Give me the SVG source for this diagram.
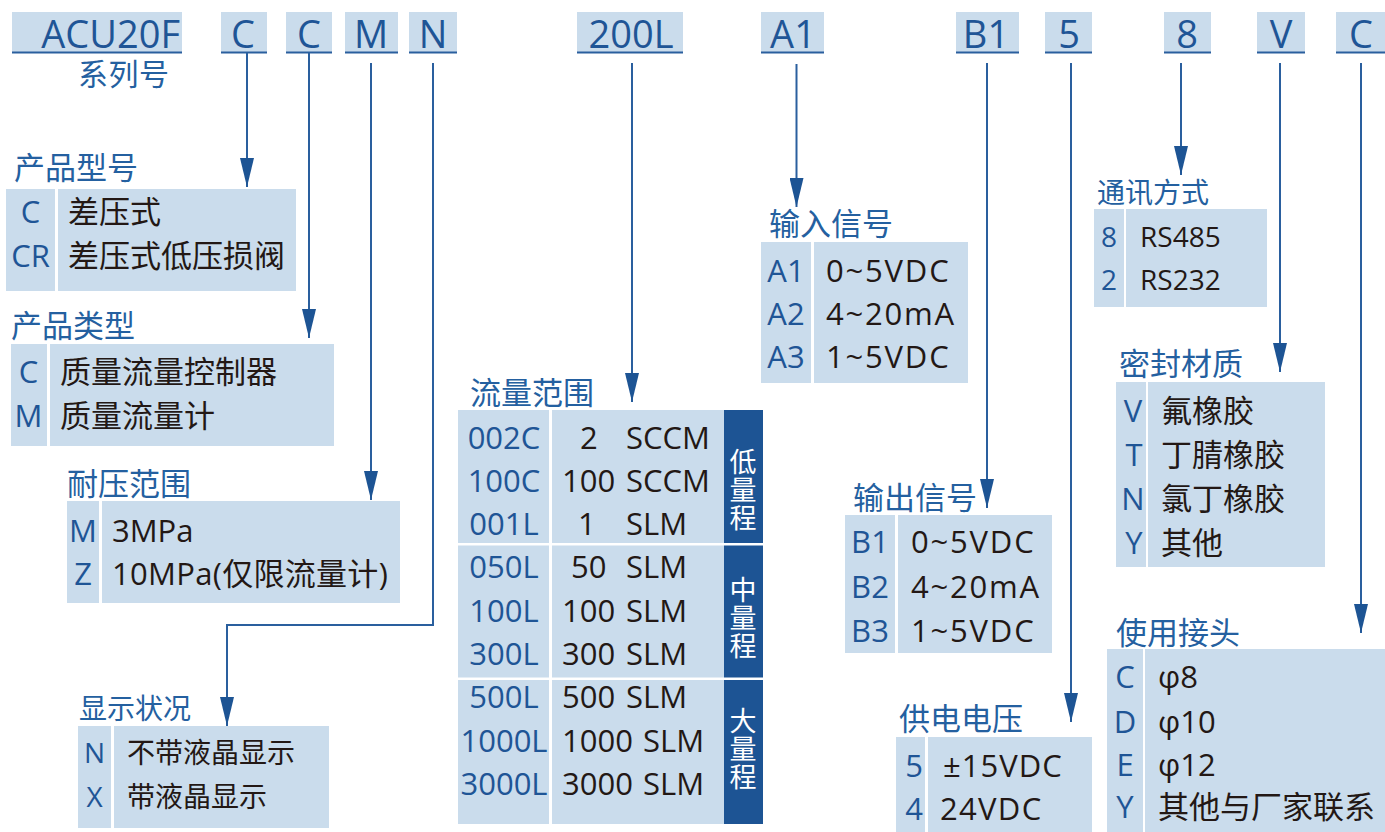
<svg xmlns="http://www.w3.org/2000/svg" width="1385" height="832" viewBox="0 0 1385 832">
<style>
.cell{fill:#cadcec}
.dk{fill:#1d5494}
.ul{stroke:#2a5f9e;stroke-width:2}
.hdr{font-family:"Open Sans","Noto Sans CJK SC",sans-serif;font-size:38px;fill:#1f5596;text-anchor:middle}
.ttl{font-family:"Noto Sans CJK SC",sans-serif;font-size:31px;fill:#2460a0}
.code{font-family:"Open Sans","Noto Sans CJK SC",sans-serif;font-size:31px;fill:#1f5596;text-anchor:middle}
.desc{font-family:"Open Sans","Noto Sans CJK SC",sans-serif;font-size:31px;fill:#231815}
.sig{letter-spacing:1.8px}
.sm{font-size:28px}
.vt{font-family:"Noto Sans CJK SC",sans-serif;font-size:27px;fill:#ffffff;writing-mode:vertical-rl;letter-spacing:1px}
.conn{stroke:#2a5f9e;stroke-width:2;fill:none}
</style>
<defs>
<marker id="ah" viewBox="0 0 29 14" refX="29" refY="7" markerWidth="29" markerHeight="14" markerUnits="userSpaceOnUse" orient="auto">
<path d="M0,0 L29,7 L0,14 z" fill="#1d5494"/>
</marker>
</defs>
<rect width="1385" height="832" fill="#ffffff"/>

<!-- header row -->
<g id="h-acu"><rect class="cell" x="12" y="12" width="170" height="40"/><line class="ul" x1="12" y1="52.5" x2="182" y2="52.5"/><text class="hdr" x="180" y="48" style="text-anchor:end">ACU20F</text><text class="ttl" x="78" y="85" style="font-size:30px;letter-spacing:0.5px">系列号</text></g>
<g id="h-c1"><rect class="cell" x="221" y="12" width="46" height="40"/><line class="ul" x1="221" y1="52.5" x2="267" y2="52.5"/><text class="hdr" x="243" y="48">C</text></g>
<g id="h-c2"><rect class="cell" x="286" y="12" width="46" height="40"/><line class="ul" x1="286" y1="52.5" x2="332" y2="52.5"/><text class="hdr" x="309" y="48">C</text></g>
<g id="h-m"><rect class="cell" x="345" y="12" width="53" height="40"/><line class="ul" x1="345" y1="52.5" x2="398" y2="52.5"/><text class="hdr" x="371" y="48">M</text></g>
<g id="h-n"><rect class="cell" x="409" y="12" width="48" height="40"/><line class="ul" x1="409" y1="52.5" x2="457" y2="52.5"/><text class="hdr" x="433" y="48">N</text></g>
<g id="h-200l"><rect class="cell" x="577" y="12" width="106" height="40"/><line class="ul" x1="577" y1="52.5" x2="683" y2="52.5"/><text class="hdr" x="631" y="48">200L</text></g>
<g id="h-a1"><rect class="cell" x="761" y="12" width="63" height="40"/><line class="ul" x1="761" y1="52.5" x2="824" y2="52.5"/><text class="hdr" x="793" y="48">A1</text></g>
<g id="h-b1"><rect class="cell" x="956" y="12" width="63" height="40"/><line class="ul" x1="956" y1="52.5" x2="1019" y2="52.5"/><text class="hdr" x="986" y="48">B1</text></g>
<g id="h-5"><rect class="cell" x="1045" y="12" width="47" height="40"/><line class="ul" x1="1045" y1="52.5" x2="1092" y2="52.5"/><text class="hdr" x="1069" y="48">5</text></g>
<g id="h-8"><rect class="cell" x="1164" y="12" width="47" height="40"/><line class="ul" x1="1164" y1="52.5" x2="1211" y2="52.5"/><text class="hdr" x="1187" y="48">8</text></g>
<g id="h-v"><rect class="cell" x="1257" y="12" width="48" height="40"/><line class="ul" x1="1257" y1="52.5" x2="1305" y2="52.5"/><text class="hdr" x="1281" y="48">V</text></g>
<g id="h-c3"><rect class="cell" x="1336" y="12" width="49" height="40"/><line class="ul" x1="1336" y1="52.5" x2="1385" y2="52.5"/><text class="hdr" x="1361" y="48">C</text></g>

<!-- connectors -->
<g id="connectors">
<path class="conn" d="M247,53 V187" marker-end="url(#ah)"/>
<path class="conn" d="M309,53 V338" marker-end="url(#ah)"/>
<path class="conn" d="M371,63 V500" marker-end="url(#ah)"/>
<path class="conn" d="M433,63 V625 H227 V726" marker-end="url(#ah)"/>
<path class="conn" d="M632,63 V402" marker-end="url(#ah)"/>
<path class="conn" d="M796.5,64 V207" marker-end="url(#ah)"/>
<path class="conn" d="M987,63 V508" marker-end="url(#ah)"/>
<path class="conn" d="M1071,63 V722" marker-end="url(#ah)"/>
<path class="conn" d="M1181,63 V175" marker-end="url(#ah)"/>
<path class="conn" d="M1280,63 V372" marker-end="url(#ah)"/>
<path class="conn" d="M1361,63 V633" marker-end="url(#ah)"/>
</g>

<!-- 产品型号 -->
<g id="t-model">
<text class="ttl" x="14" y="179">产品型号</text>
<rect class="cell" x="6" y="189" width="49" height="102"/>
<rect class="cell" x="58" y="189" width="238" height="102"/>
<text class="code" x="30.5" y="223">C</text>
<text class="code" x="30.5" y="267">CR</text>
<text class="desc" x="68" y="223">差压式</text>
<text class="desc" x="68" y="267">差压式低压损阀</text>
</g>

<!-- 产品类型 -->
<g id="t-type">
<text class="ttl" x="11" y="337">产品类型</text>
<rect class="cell" x="11" y="344" width="36" height="102"/>
<rect class="cell" x="50" y="344" width="284" height="102"/>
<text class="code" x="28.5" y="383">C</text>
<text class="code" x="28.5" y="427">M</text>
<text class="desc" x="60" y="383">质量流量控制器</text>
<text class="desc" x="60" y="427">质量流量计</text>
</g>

<!-- 耐压范围 -->
<g id="t-pressure">
<text class="ttl" x="67" y="495">耐压范围</text>
<rect class="cell" x="67" y="501" width="32" height="102"/>
<rect class="cell" x="102" y="501" width="298" height="102"/>
<text class="code" x="83" y="542">M</text>
<text class="code" x="83" y="585">Z</text>
<text class="desc" x="112" y="542">3MPa</text>
<text class="desc" x="112" y="585" style="letter-spacing:0.3px">10MPa(仅限流量计)</text>
</g>

<!-- 显示状况 -->
<g id="t-display">
<text class="ttl sm" x="79" y="719">显示状况</text>
<rect class="cell" x="78" y="726" width="33" height="102"/>
<rect class="cell" x="114" y="726" width="215" height="102"/>
<text class="code sm" x="94.5" y="763">N</text>
<text class="code sm" x="94.5" y="807">X</text>
<text class="desc sm" x="127" y="763">不带液晶显示</text>
<text class="desc sm" x="127" y="807">带液晶显示</text>
</g>

<!-- 流量范围 -->
<g id="t-flow">
<text class="ttl" x="470" y="404">流量范围</text>
<rect class="cell" x="458" y="410" width="91" height="133"/>
<rect class="cell" x="458" y="545.5" width="91" height="132"/>
<rect class="cell" x="458" y="680" width="91" height="144"/>
<rect class="cell" x="552" y="410" width="172" height="133"/>
<rect class="cell" x="552" y="545.5" width="172" height="132"/>
<rect class="cell" x="552" y="680" width="172" height="144"/>
<rect class="dk" x="724" y="410" width="39" height="133"/>
<rect class="dk" x="724" y="545.5" width="39" height="132"/>
<rect class="dk" x="724" y="680" width="39" height="144"/>
<text class="code" x="504" y="449">002C</text>
<text class="code" x="504" y="492">100C</text>
<text class="code" x="504" y="535">001L</text>
<text class="code" x="504" y="578">050L</text>
<text class="code" x="504" y="622">100L</text>
<text class="code" x="504" y="665">300L</text>
<text class="code" x="504" y="708">500L</text>
<text class="code" x="504" y="752">1000L</text>
<text class="code" x="504" y="795">3000L</text>
<text class="desc" x="580" y="449">2</text><text class="desc" x="626" y="449">SCCM</text>
<text class="desc" x="562" y="492">100</text><text class="desc" x="626" y="492">SCCM</text>
<text class="desc" x="578" y="535">1</text><text class="desc" x="626" y="535">SLM</text>
<text class="desc" x="571" y="578">50</text><text class="desc" x="626" y="578">SLM</text>
<text class="desc" x="562" y="622">100</text><text class="desc" x="626" y="622">SLM</text>
<text class="desc" x="562" y="665">300</text><text class="desc" x="626" y="665">SLM</text>
<text class="desc" x="562" y="708">500</text><text class="desc" x="626" y="708">SLM</text>
<text class="desc" x="562" y="752">1000</text><text class="desc" x="643" y="752">SLM</text>
<text class="desc" x="562" y="795">3000</text><text class="desc" x="643" y="795">SLM</text>
<text class="vt" x="743" y="448">低量程</text>
<text class="vt" x="743" y="576">中量程</text>
<text class="vt" x="743" y="707">大量程</text>
</g>

<!-- 输入信号 -->
<g id="t-input">
<text class="ttl" x="769" y="235">输入信号</text>
<rect class="cell" x="761" y="242" width="50" height="141"/>
<rect class="cell" x="814" y="242" width="154" height="141"/>
<text class="code" x="786" y="282">A1</text>
<text class="code" x="786" y="325">A2</text>
<text class="code" x="786" y="368">A3</text>
<text class="desc sig" x="826" y="282">0~5VDC</text>
<text class="desc sig" x="826" y="325">4~20mA</text>
<text class="desc sig" x="826" y="368">1~5VDC</text>
</g>

<!-- 输出信号 -->
<g id="t-output">
<text class="ttl" x="853" y="509">输出信号</text>
<rect class="cell" x="845" y="515" width="50" height="138"/>
<rect class="cell" x="898" y="515" width="154" height="138"/>
<text class="code" x="870" y="553">B1</text>
<text class="code" x="870" y="598">B2</text>
<text class="code" x="870" y="642">B3</text>
<text class="desc sig" x="911" y="553">0~5VDC</text>
<text class="desc sig" x="911" y="598">4~20mA</text>
<text class="desc sig" x="911" y="642">1~5VDC</text>
</g>

<!-- 供电电压 -->
<g id="t-power">
<text class="ttl" x="899" y="730">供电电压</text>
<rect class="cell" x="896" y="737" width="29" height="95"/>
<rect class="cell" x="928" y="737" width="164" height="95"/>
<text class="code" x="914" y="777">5</text>
<text class="code" x="914" y="820">4</text>
<text class="desc" x="943" y="777" style="letter-spacing:1px">±15VDC</text>
<text class="desc" x="940" y="820" style="letter-spacing:1.3px">24VDC</text>
</g>

<!-- 通讯方式 -->
<g id="t-comm">
<text class="ttl sm" x="1097" y="203">通讯方式</text>
<rect class="cell" x="1094" y="209" width="30" height="98"/>
<rect class="cell" x="1126" y="209" width="141" height="98"/>
<text class="code sm" x="1109" y="247">8</text>
<text class="code sm" x="1109" y="290">2</text>
<text class="desc sm" x="1140" y="247">RS485</text>
<text class="desc sm" x="1140" y="290">RS232</text>
</g>

<!-- 密封材质 -->
<g id="t-seal">
<text class="ttl" x="1119" y="375">密封材质</text>
<rect class="cell" x="1116" y="382" width="30" height="185"/>
<rect class="cell" x="1148" y="382" width="177" height="185"/>
<text class="code" x="1133" y="422">V</text>
<text class="code" x="1134" y="466">T</text>
<text class="code" x="1133" y="510">N</text>
<text class="code" x="1134" y="554">Y</text>
<text class="desc" x="1161" y="422">氟橡胶</text>
<text class="desc" x="1161" y="466">丁腈橡胶</text>
<text class="desc" x="1161" y="510">氯丁橡胶</text>
<text class="desc" x="1161" y="554">其他</text>
</g>

<!-- 使用接头 -->
<g id="t-fitting">
<text class="ttl" x="1116" y="644">使用接头</text>
<rect class="cell" x="1107" y="649" width="36" height="183"/>
<rect class="cell" x="1145" y="649" width="240" height="183"/>
<text class="code" x="1125" y="688">C</text>
<text class="code" x="1125" y="733">D</text>
<text class="code" x="1125" y="776">E</text>
<text class="code" x="1125" y="818">Y</text>
<text class="desc" x="1158" y="688">φ8</text>
<text class="desc" x="1158" y="733">φ10</text>
<text class="desc" x="1158" y="776">φ12</text>
<text class="desc" x="1158" y="818">其他与厂家联系</text>
</g>
</svg>
